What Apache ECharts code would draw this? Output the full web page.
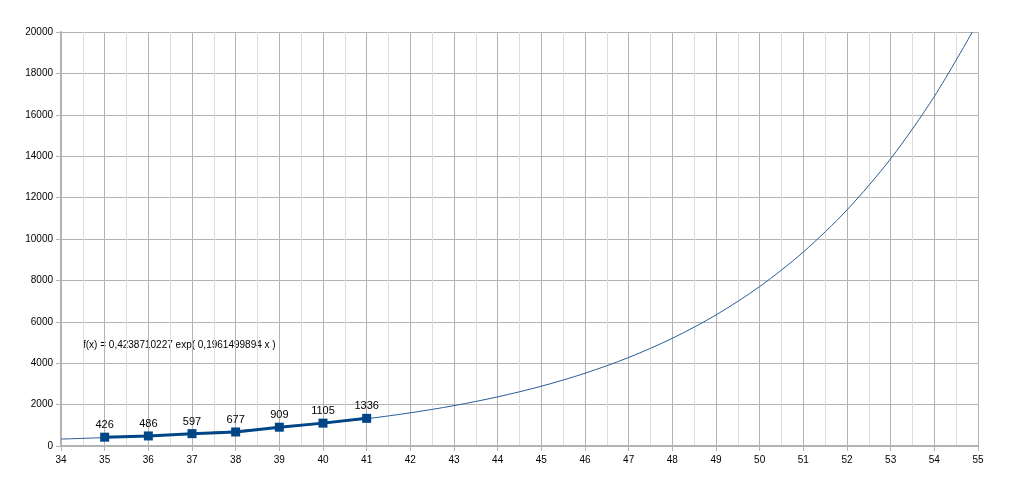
<!DOCTYPE html>
<html>
<head>
<meta charset="utf-8">
<script src="https://cdn.jsdelivr.net/npm/echarts@6/dist/echarts.min.js"></script>
<style>
html,body{margin:0;padding:0;background:#fff;}
#chart{width:1019px;height:480px;}
</style>
</head>
<body>
<div id="chart"></div>
<script>
// Measured data points
var dataX = [35, 36, 37, 38, 39, 40, 41];
var dataY = [426, 486, 597, 677, 909, 1105, 1336];
// Trend curve values
var trendX = [34, 35, 36, 37, 38, 39, 40, 41, 42, 43, 44, 45, 46, 47, 48, 49, 50, 51, 52, 53, 54, 54.87];
var trendY = [334, 406, 494, 601, 731, 890, 1083, 1317, 1603, 1950, 2373, 2888, 3514, 4276, 5203, 6331, 7703, 9373, 11405, 13877, 16886, 20000];
var trendLabel = 'f(x) = 0,4238710227 exp( 0,1961499894 x )';

var font = 'Liberation Sans, Arial, sans-serif';
var chart = echarts.init(document.getElementById('chart'));
var option = {
  animation: false,
  backgroundColor: '#ffffff',
  grid: {left: 61, right: 41, top: 32, bottom: 34, containLabel: false},
  xAxis: {
    type: 'value', min: 34, max: 55, interval: 1,
    axisLine: {show: true, lineStyle: {color: '#b3b3b3', width: 2}},
    axisTick: {show: true, length: 5, lineStyle: {color: '#b3b3b3'}},
    axisLabel: {color: '#000', fontFamily: font, fontSize: 10, margin: 9},
    splitLine: {show: true, lineStyle: {color: '#b3b3b3', width: 1}},
    minorTick: {show: false, splitNumber: 2},
    minorSplitLine: {show: true, lineStyle: {color: '#dddddd', width: 1}}
  },
  yAxis: {
    type: 'value', min: 0, max: 20000, interval: 2000,
    axisLine: {show: true, lineStyle: {color: '#b3b3b3', width: 2}},
    axisTick: {show: true, length: 5, lineStyle: {color: '#b3b3b3'}},
    axisLabel: {color: '#000', fontFamily: font, fontSize: 10, margin: 8,
      formatter: function (v) { return String(v); }},
    splitLine: {show: true, lineStyle: {color: '#b3b3b3', width: 1}}
  },
  series: [
    {
      type: 'line',
      data: trendX.map(function (x, i) { return [x, trendY[i]]; }),
      smooth: 0.3,
      showSymbol: false,
      symbol: 'none',
      clip: true,
      lineStyle: {color: '#2a5d9a', width: 1},
      z: 2
    },
    {
      type: 'line',
      data: dataX.map(function (x, i) { return [x, dataY[i]]; }),
      symbol: 'rect',
      symbolSize: 9,
      itemStyle: {color: '#004586'},
      lineStyle: {color: '#004586', width: 3},
      label: {show: true, position: 'top', distance: 2, color: '#000', fontFamily: font, fontSize: 11},
      z: 3
    }
  ],
  graphic: [{
    type: 'text', left: 83, top: 340,
    style: {text: trendLabel, fill: '#000', font: '10px ' + font}
  }]
};
chart.setOption(option);
</script>
</body>
</html>
